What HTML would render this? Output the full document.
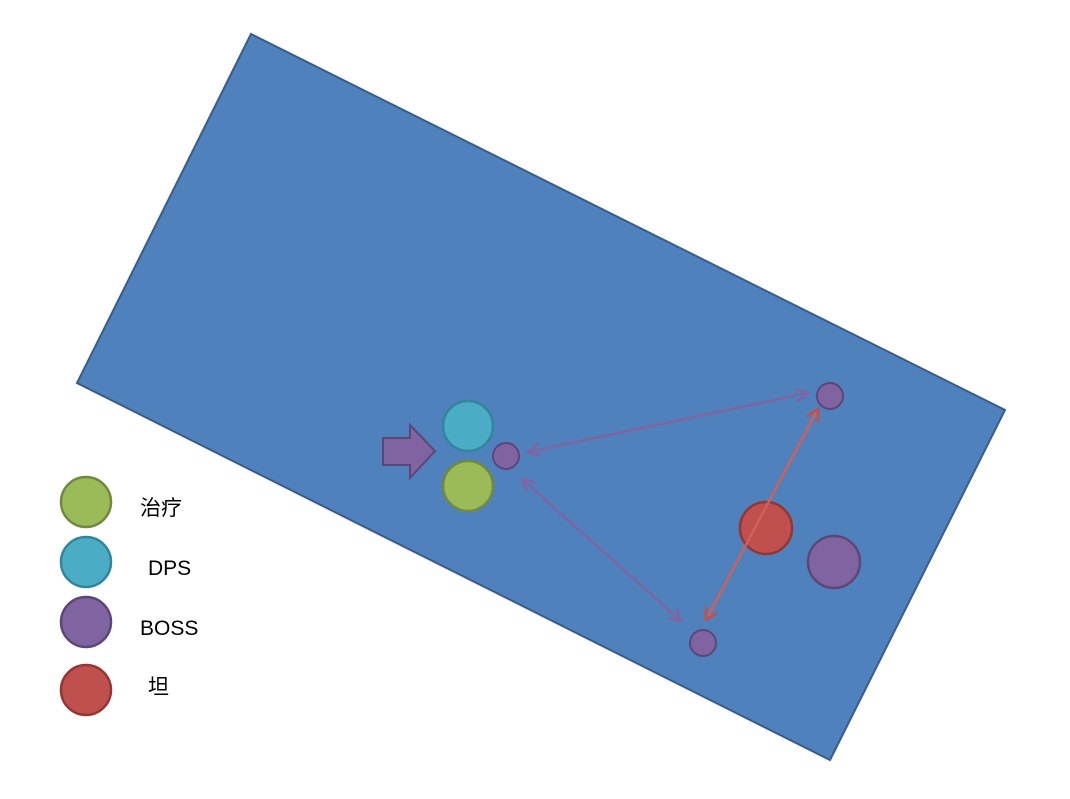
<!DOCTYPE html>
<html><head><meta charset="utf-8"><style>
html,body{margin:0;padding:0;background:#fff;}
svg{display:block;}
text{font-family:"Liberation Sans","Noto Sans CJK SC",sans-serif;font-size:21px;fill:#000;}
</style></head><body>
<svg width="1070" height="799" viewBox="0 0 1070 799" xmlns="http://www.w3.org/2000/svg">
<polygon points="251,34 1005,410 830,760 77,383" fill="#4F81BD" stroke="#385D8A" stroke-width="2"/>
<polygon points="383,438 410,438 410,425 435,451 410,478 410,465 383,465" fill="#8064A2" stroke="#5C4776" stroke-width="2"/>
<circle cx="468" cy="426" r="25" fill="#4BACC6" stroke="#31859C" stroke-width="2.5"/>
<circle cx="468" cy="486" r="25" fill="#9BBB59" stroke="#71893F" stroke-width="2.5"/>
<circle cx="506" cy="456" r="13" fill="#8064A2" stroke="#5C4776" stroke-width="2"/>
<circle cx="830" cy="396" r="13" fill="#8064A2" stroke="#5C4776" stroke-width="2"/>
<circle cx="703" cy="643" r="13" fill="#8064A2" stroke="#5C4776" stroke-width="2"/>
<circle cx="766" cy="528" r="26" fill="#C0504D" stroke="#943634" stroke-width="2.5"/>
<circle cx="834" cy="562" r="26" fill="#8064A2" stroke="#5C4776" stroke-width="2.5"/>
<g fill="none" stroke="#8064A2" stroke-width="2.5" stroke-linecap="round" stroke-linejoin="round">
<line x1="528" y1="452" x2="808" y2="393"/>
<path d="M798.5,401.2 L808,393 L796,389.4"/>
<path d="M540,455.6 L528,452 L537.5,443.8"/>
<line x1="522" y1="479" x2="681" y2="621"/>
<path d="M668.8,618.2 L681,621 L676.8,609.2"/>
<path d="M526.2,490.8 L522,479 L534.2,481.8"/>
</g>
<g fill="none" stroke="#C0504D" stroke-width="2.5" stroke-linecap="round" stroke-linejoin="round">
<line x1="818" y1="409" x2="706" y2="620" stroke="#D0605A"/>
<path d="M705.9,607.5 L706,620 L716.5,613.1"/>
<path d="M807.5,415.9 L818,409 L818.1,421.5"/>
</g>
<circle cx="86" cy="502" r="25" fill="#9BBB59" stroke="#71893F" stroke-width="2.5"/>
<circle cx="86" cy="562" r="25" fill="#4BACC6" stroke="#31859C" stroke-width="2.5"/>
<circle cx="86" cy="622" r="25" fill="#8064A2" stroke="#5C4776" stroke-width="2.5"/>
<circle cx="86" cy="690" r="25" fill="#C0504D" stroke="#943634" stroke-width="2.5"/>
<text x="140" y="515">治疗</text>
<text x="148" y="575">DPS</text>
<text x="140" y="635">BOSS</text>
<text x="148" y="694">坦</text>
</svg>
</body></html>
